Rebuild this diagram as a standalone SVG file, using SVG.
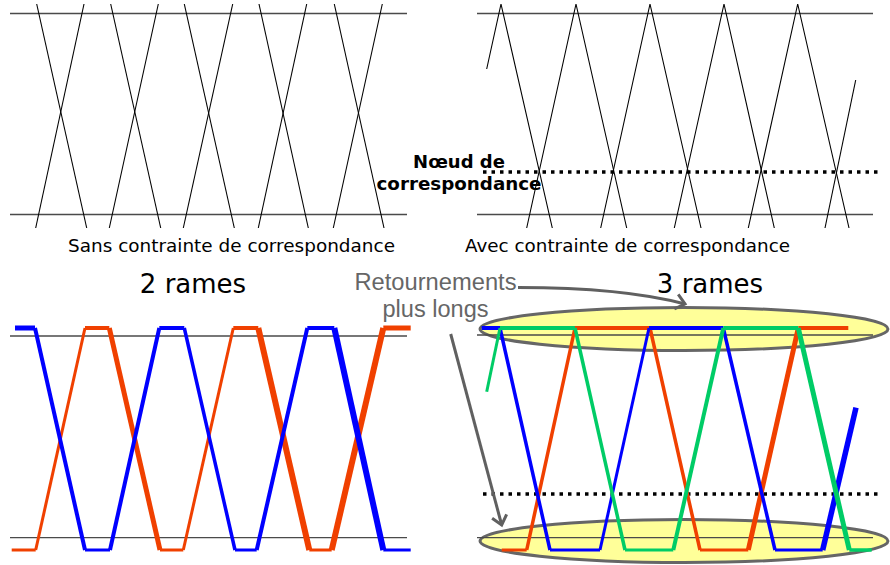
<svg xmlns="http://www.w3.org/2000/svg" width="890" height="565" viewBox="0 0 890 565">
<style>
.bg{fill:#ffffff}
.rail{stroke:#4a4a4a;stroke-width:1.3;fill:none}
.thin{stroke:#000;stroke-width:1.1;fill:none}
.dots{stroke:#000;stroke-width:3.5;stroke-dasharray:3.5 5;fill:none}
.cap{font-family:"DejaVu Sans",Verdana,sans-serif;font-size:18px;fill:#000}
.big{font-family:"DejaVu Sans",Verdana,sans-serif;font-size:26px;fill:#000}
.node{font-family:"DejaVu Sans",Verdana,sans-serif;font-size:18px;font-weight:bold;fill:#000}
.note{font-family:"Liberation Sans",Arial,sans-serif;font-size:23px;fill:#666}
.b{stroke:#0000ff;fill:none}
.o{stroke:#f04000;fill:none}
.g{stroke:#00cc66;fill:none}
.ell{fill:#ffff99;stroke:#666;stroke-width:3}
.arrow{stroke:#606060;stroke-width:3;fill:none;marker-end:url(#arr)}
</style>
<defs>
<marker id="arr" markerUnits="userSpaceOnUse" orient="auto" refX="0" refY="0" markerWidth="20" markerHeight="20" overflow="visible">
<path d="M-9,-7.5 L0,0 L-9,7.5" fill="none" stroke="#606060" stroke-width="3"/>
</marker>
</defs>
<rect class="bg" x="0" y="0" width="890" height="565"/>

<g id="panel-top-left">
<line class="rail" x1="10" y1="13.5" x2="407" y2="13.5"/>
<line class="rail" x1="10" y1="214.5" x2="407" y2="214.5"/>
<line class="thin" x1="36.7" y1="4" x2="86.7" y2="228"/>
<line class="thin" x1="84" y1="4" x2="35.7" y2="228"/>
<line class="thin" x1="110.7" y1="4" x2="160.7" y2="228"/>
<line class="thin" x1="158.3" y1="4" x2="109.3" y2="228"/>
<line class="thin" x1="184.3" y1="4" x2="234.3" y2="228"/>
<line class="thin" x1="232.7" y1="4" x2="183.3" y2="228"/>
<line class="thin" x1="259" y1="4" x2="308.3" y2="228"/>
<line class="thin" x1="306.7" y1="4" x2="258.3" y2="228"/>
<line class="thin" x1="334.3" y1="4" x2="384" y2="228"/>
<line class="thin" x1="382.3" y1="4" x2="333.3" y2="228"/>
</g>

<g id="panel-top-right">
<line class="rail" x1="477" y1="13.5" x2="873" y2="13.5"/>
<line class="rail" x1="477" y1="214.5" x2="873" y2="214.5"/>
<polyline class="thin" points="486.7,69 501,4 552.3,228"/>
<polyline class="thin" points="526.7,228 576,4 626.7,228"/>
<polyline class="thin" points="600.7,228 650,4 701,228"/>
<polyline class="thin" points="674.3,228 724,4 774.3,228"/>
<polyline class="thin" points="748.3,228 797.7,4 849,228"/>
<line class="thin" x1="825" y1="228" x2="855.7" y2="80"/>
<line class="dots" x1="483" y1="172" x2="878" y2="172"/>
</g>

<g id="label-noeud">
<text class="node" x="459" y="168" text-anchor="middle">Nœud de</text>
<text class="node" x="459" y="190" text-anchor="middle" textLength="165" lengthAdjust="spacingAndGlyphs">correspondance</text>
</g>

<g id="caption-sans">
<text class="cap" x="68" y="251.5" textLength="327" lengthAdjust="spacingAndGlyphs">Sans contrainte de correspondance</text>
</g>
<g id="caption-avec">
<text class="cap" x="465" y="251.5" textLength="325" lengthAdjust="spacingAndGlyphs">Avec contrainte de correspondance</text>
</g>
<g id="title-2-rames">
<text class="big" x="193" y="293" text-anchor="middle">2 rames</text>
</g>
<g id="title-3-rames">
<text class="big" x="710" y="293" text-anchor="middle">3 rames</text>
</g>

<g id="panel-bottom-left">
<line class="rail" x1="10" y1="336" x2="407" y2="336"/>
<line class="rail" x1="10" y1="537.7" x2="407" y2="537.7"/>
<g class="o">
<line x1="11.7" y1="550" x2="35.7" y2="550" stroke-width="3"/>
<line x1="35.7" y1="550" x2="85" y2="328" stroke-width="3"/>
<line x1="85" y1="328" x2="109.3" y2="328" stroke-width="4"/>
<line x1="109.3" y1="328" x2="160" y2="550" stroke-width="5"/>
<line x1="160" y1="550" x2="183.3" y2="550" stroke-width="3"/>
<line x1="183.3" y1="550" x2="233.3" y2="328" stroke-width="3"/>
<line x1="233.3" y1="328" x2="258.3" y2="328" stroke-width="4"/>
<line x1="258.3" y1="328" x2="309.3" y2="550" stroke-width="6"/>
<line x1="309.3" y1="550" x2="331.7" y2="550" stroke-width="3"/>
<line x1="331.7" y1="550" x2="383.3" y2="328" stroke-width="6"/>
<line x1="383.3" y1="328" x2="410.7" y2="328" stroke-width="5"/>
</g>
<g class="b">
<line x1="15" y1="328" x2="35" y2="328" stroke-width="5"/>
<line x1="35" y1="328" x2="85" y2="550" stroke-width="4"/>
<line x1="85" y1="550" x2="110" y2="550" stroke-width="3"/>
<line x1="110" y1="550" x2="159.3" y2="328" stroke-width="4"/>
<line x1="159.3" y1="328" x2="184.3" y2="328" stroke-width="4"/>
<line x1="184.3" y1="328" x2="235" y2="550" stroke-width="3.5"/>
<line x1="235" y1="550" x2="256.7" y2="550" stroke-width="3"/>
<line x1="256.7" y1="550" x2="307.3" y2="328" stroke-width="4"/>
<line x1="307.3" y1="328" x2="334.3" y2="328" stroke-width="4"/>
<line x1="334.3" y1="328" x2="383.3" y2="550" stroke-width="6"/>
<line x1="383.3" y1="550" x2="410.7" y2="550" stroke-width="3"/>
</g>
</g>

<g id="panel-bottom-right">
<ellipse id="zone-top" class="ell" cx="684" cy="329" rx="204" ry="21.5"/>
<ellipse id="zone-bottom" class="ell" cx="684" cy="541" rx="204" ry="21.5"/>
<line class="rail" x1="477" y1="335" x2="873" y2="335"/>
<line class="rail" x1="477" y1="537.7" x2="873" y2="537.7"/>
<line class="dots" x1="483" y1="494" x2="878" y2="494"/>
<g class="o">
<line x1="501.7" y1="550" x2="526.7" y2="550" stroke-width="3"/>
<line x1="526.7" y1="550" x2="575" y2="328" stroke-width="3.5"/>
<line x1="575" y1="328" x2="650" y2="328" stroke-width="4"/>
<line x1="650" y1="328" x2="700" y2="550" stroke-width="3.5"/>
<line x1="700" y1="550" x2="748.3" y2="550" stroke-width="3"/>
<line x1="748.3" y1="550" x2="798.3" y2="328" stroke-width="5"/>
<line x1="798.3" y1="328" x2="848.3" y2="328" stroke-width="4"/>
</g>
<g class="b">
<line x1="481.7" y1="328" x2="500" y2="328" stroke-width="4"/>
<line x1="500" y1="328" x2="550" y2="550" stroke-width="3.5"/>
<line x1="550" y1="550" x2="600" y2="550" stroke-width="3"/>
<line x1="600" y1="550" x2="649" y2="328" stroke-width="3"/>
<line x1="649" y1="328" x2="723.3" y2="328" stroke-width="4"/>
<line x1="723.3" y1="328" x2="775" y2="550" stroke-width="3.5"/>
<line x1="775" y1="550" x2="822.7" y2="550" stroke-width="3"/>
<line x1="822.7" y1="550" x2="856" y2="407.7" stroke-width="5.5"/>
</g>
<g class="g">
<line x1="486.7" y1="391.7" x2="500" y2="328" stroke-width="3"/>
<line x1="500" y1="328" x2="575" y2="328" stroke-width="4"/>
<line x1="575" y1="328" x2="625" y2="550" stroke-width="3.5"/>
<line x1="625" y1="550" x2="673.3" y2="550" stroke-width="3"/>
<line x1="673.3" y1="550" x2="723.3" y2="328" stroke-width="4"/>
<line x1="723.3" y1="328" x2="798.3" y2="328" stroke-width="4"/>
<line x1="798.3" y1="328" x2="849.3" y2="550" stroke-width="5"/>
<line x1="849.3" y1="550" x2="871.7" y2="550" stroke-width="3.5"/>
</g>
</g>

<g id="label-retournements">
<text class="note" x="435.5" y="290" text-anchor="middle" textLength="162" lengthAdjust="spacingAndGlyphs">Retournements</text>
<text class="note" x="435.5" y="317" text-anchor="middle" textLength="106" lengthAdjust="spacingAndGlyphs">plus longs</text>
</g>

<g id="connectors">
<path class="arrow" d="M518,287.5 C585,287.5 640,292 685,304"/>
<path class="arrow" d="M450.7,334 L501.7,525"/>
</g>
</svg>
